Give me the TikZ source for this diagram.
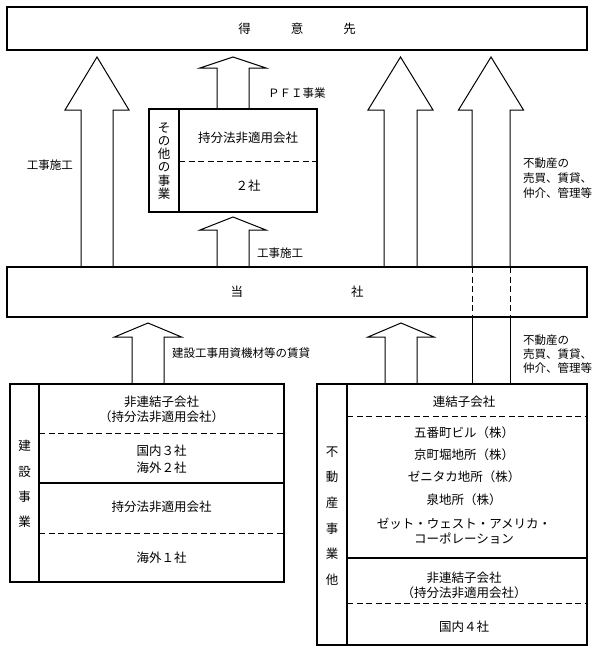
\documentclass[tikz,border=0pt]{standalone}
\usepackage{fontspec}
\setmainfont{Noto Sans CJK JP}
\def\blockarrow[#1](#2:#3:#4)(#5:#6:#7){\draw[#1] ({#2-#5},#3) -- ({#2-#5},{#4+#7}) -- ({#2-#6},{#4+#7}) -- (#2,#4) -- ({#2+#6},{#4+#7}) -- ({#2+#5},{#4+#7}) -- ({#2+#5},#3);}

\begin{document}
\begin{tikzpicture}[x=1pt, y=-1pt,
		box/.style={draw, line width=1.1pt, inner sep=0pt},
		divider/.style={line width=1.1pt},
		dashline/.style={line width=1pt, dash pattern=on 6pt off 3.5pt},
		boxtext/.style={font=\fontsize{12.5}{15}\selectfont, align=center, inner sep=0pt},
		sidetext/.style={font=\fontsize{11.5}{15}\selectfont, align=left, inner sep=0pt, anchor=west},
		arr/.style={line width=1pt, line join=miter}]
		%%%%% START %%%%%
		\useasboundingbox (0,0) rectangle (607,651);
		
		\node[box, boxtext, minimum width=580pt, minimum height=43pt] (client) at (297,28.5) {得\hspace{40pt}意\hspace{40pt}先};
		\node[box, boxtext, minimum width=580pt, minimum height=50pt] (company) at (297,292) {当\hspace{108pt}社};
		
		\draw[divider] (149,109) rectangle (317,212);
		\draw[divider] (179,109) -- (179,212);
		\draw[dashline] (179,161) -- (317,161);
		\node[boxtext, font=\fontsize{12.5}{13.3}\selectfont] (other) at (164,161) {そ\\の\\他\\の\\事\\業};
		\node[boxtext] (othereq) at (248,138) {持分法非適用会社};
		\node[boxtext] (othernum) at (248,186) {２社};
		
		\blockarrow[arr](97:267:57)(16:32:53);
		\blockarrow[arr](233:109:57)(16:33:11);
		\blockarrow[arr](233:267:217)(16:33:13);
		\blockarrow[arr](400.5:267:57)(16.5:32.5:53);
		\blockarrow[arr](491:267:57)(19:32.5:53);
		\draw[dashline] (472,267) -- (472,317);
		\draw[dashline] (510,267) -- (510,317);
		\draw[arr] (472,317) -- (472,384);
		\draw[arr] (510,317) -- (510,384);
		\blockarrow[arr](148:384:323)(16:33.5:14);
		\blockarrow[arr](401:384:323)(16:33:14);
		
		\node[sidetext, anchor=center] (works) at (50,165) {工事施工};
		\node[sidetext] (pfi) at (268,93) {ＰＦＩ事業};
		\node[sidetext] (works2) at (257,253) {工事施工};
		\node[sidetext] (estate1) at (523,178) {不動産の\\売買、賃貸、\\仲介、管理等};
		\node[sidetext, font=\fontsize{11.5}{14}\selectfont] (estate2) at (523,354) {不動産の\\売買、賃貸、\\仲介、管理等};
		\node[sidetext] (lease) at (172,353) {建設工事用資機材等の賃貸};
		
		% construction
		\draw[divider] (10,384) rectangle (284,582);
		\draw[divider] (39,384) -- (39,582);
		\draw[dashline] (39,433) -- (284,433);
		\draw[divider] (39,483) -- (284,483);
		\draw[dashline] (39,533) -- (284,533);
		\node[boxtext, font=\fontsize{12.5}{25.3}\selectfont] (build) at (24.5,484) {建\\設\\事\\業};
		\node[boxtext] (bsub) at (161.5,409.5) {非連結子会社\\（持分法非適用会社）};
		\node[boxtext, font=\fontsize{12.5}{17}\selectfont] (bnum) at (161.5,459.5) {国内３社\\海外２社};
		\node[boxtext] (beq) at (161.5,507) {持分法非適用会社};
		\node[boxtext] (bnum2) at (161.5,558) {海外１社};
		
		% real estate
		\draw[divider] (317,384) rectangle (587,645);
		\draw[divider] (347,384) -- (347,645);
		\draw[dashline] (347,416) -- (587,416);
		\draw[divider] (347,558) -- (587,558);
		\draw[dashline] (347,603) -- (587,603);
		\node[boxtext, font=\fontsize{12.5}{25.6}\selectfont] (estate) at (332,516) {不\\動\\産\\事\\業\\他};
		\node[boxtext] (rsub) at (464,402) {連結子会社};
		\node[boxtext] (r1) at (464,433) {五番町ビル（株）};
		\node[boxtext] (r2) at (464,455) {京町堀地所（株）};
		\node[boxtext] (r3) at (464,477) {ゼニタカ地所（株）};
		\node[boxtext] (r4) at (464,500) {泉地所（株）};
		\node[boxtext] (r5) at (464,531.5) {ゼット・ウェスト・アメリカ・\\コーポレーション};
		\node[boxtext] (rnc) at (464,585.5) {非連結子会社\\（持分法非適用会社）};
		\node[boxtext] (rnum) at (464,627) {国内４社};
		
		%%%%% END %%%%%
	\end{tikzpicture}
\end{document}
